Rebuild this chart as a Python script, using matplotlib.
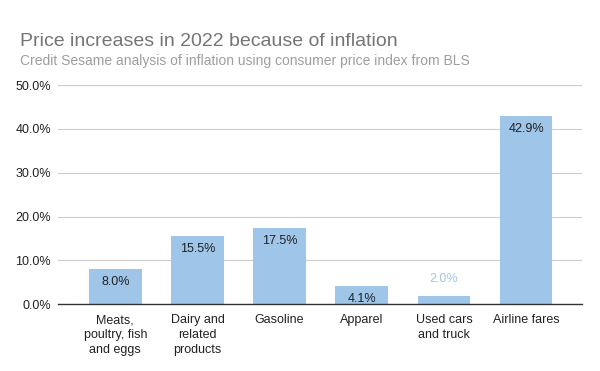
import matplotlib
matplotlib.use("Agg")
import matplotlib.pyplot as plt
from matplotlib.ticker import FuncFormatter

plt.rcParams['font.family'] = ['Liberation Sans', 'DejaVu Sans']

categories = ["Meats,\npoultry, fish\nand eggs", "Dairy and\nrelated\nproducts", "Gasoline",
              "Apparel", "Used cars\nand truck", "Airline fares"]
values = [8.0, 15.5, 17.5, 4.1, 2.0, 42.9]
yticks = [0, 10, 20, 30, 40, 50]

bar_color = "#9fc5e8"

fig = plt.figure(figsize=(6, 3.71), dpi=100)
ax = fig.add_axes([0.0967, 0.1798, 0.873, 0.591])

x = range(len(categories))
bars = ax.bar(x, values, width=0.64, color=bar_color, zorder=2)

# value labels: inside top of bar, or above if the bar is too short
for xi, v in zip(x, values):
    if v >= 3:
        ax.text(xi, v - 1.6, f"{v:.1f}%", ha="center", va="top", fontsize=9, color="#222222", zorder=3)
    else:
        ax.text(xi, v + 2.5, f"{v:.1f}%", ha="center", va="bottom", fontsize=9, color=bar_color, zorder=3)

ax.set_ylim(0, 50)
ax.set_xlim(-0.697, 5.678)
ax.set_yticks(yticks)
ax.yaxis.set_major_formatter(FuncFormatter(lambda v, p: f"{v:.1f}%"))
ax.set_xticks(list(x))
ax.set_xticklabels(categories, fontsize=9, color="#222222", linespacing=1.35)
ax.tick_params(axis="y", labelsize=9, labelcolor="#222222", length=0, pad=5)
ax.tick_params(axis="x", length=0, pad=7)

ax.grid(axis="y", color="#cccccc", linewidth=0.8, zorder=0)
for s in ["top", "right", "left"]:
    ax.spines[s].set_visible(False)
ax.spines["bottom"].set_color("#333333")
ax.spines["bottom"].set_linewidth(1)
ax.spines["bottom"].set_zorder(4)

fig.text(0.033, 0.888, "Price increases in 2022 because of inflation", fontsize=14, color="#757575", va="center")
fig.text(0.033, 0.835, "Credit Sesame analysis of inflation using consumer price index from BLS",
         fontsize=10, color="#9e9e9e", va="center")

fig.savefig("out.png", dpi=100)
